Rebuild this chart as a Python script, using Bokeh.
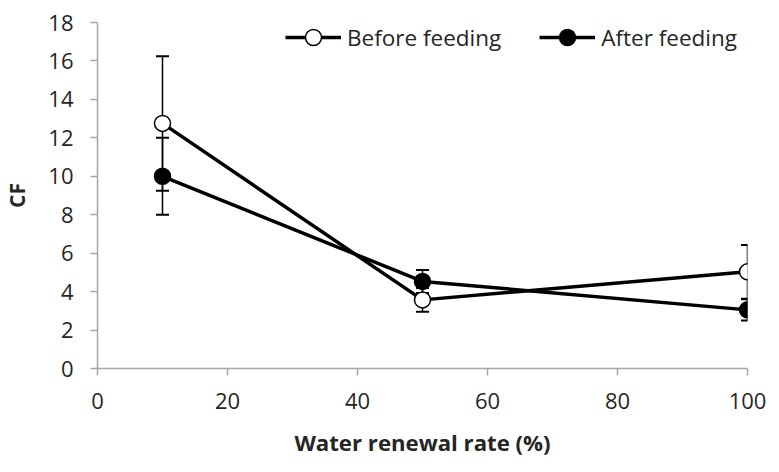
from bokeh.plotting import figure
from bokeh.models import ColumnDataSource, Whisker, TeeHead, Legend, LegendItem, Range1d, FixedTicker
from bokeh.embed import file_html
from bokeh.resources import INLINE

rates = [10, 50, 100]
before = [12.75, 3.57, 5.03]
before_err = [3.5, 0.62, 1.4]
after = [10.0, 4.53, 3.05]
after_err = [2.0, 0.6, 0.55]
x_ticks = [0, 20, 40, 60, 80, 100]
y_ticks = [0, 2, 4, 6, 8, 10, 12, 14, 16, 18]

FONT = "Open Sans"
TXT = "#262626"
AX = "#a6a6a6"

p = figure(width=771, height=464, output_backend="svg", toolbar_location=None,
           x_range=Range1d(0, 100), y_range=Range1d(0, 18),
           min_border_left=97, min_border_right=24, min_border_top=22, min_border_bottom=96)
p.outline_line_color = None
p.xgrid.visible = False
p.ygrid.visible = False

for ax in (p.xaxis[0], p.yaxis[0]):
    ax.axis_line_color = AX
    ax.axis_line_width = 1.5
    ax.major_tick_line_color = AX
    ax.major_tick_line_width = 1.5
    ax.major_tick_out = 7
    ax.major_tick_in = 0
    ax.minor_tick_line_color = None
    ax.major_label_text_font = FONT
    ax.major_label_text_font_size = "22px"
    ax.major_label_text_color = TXT
    ax.axis_label_text_font = FONT
    ax.axis_label_text_font_style = "bold"
    ax.axis_label_text_color = TXT

p.xaxis.ticker = FixedTicker(ticks=x_ticks)
p.yaxis.ticker = FixedTicker(ticks=y_ticks)
p.xaxis.axis_label = "Water renewal rate (%)"
p.yaxis.axis_label = "CF"
p.xaxis.axis_label_text_font_size = "22.2px"
p.yaxis.axis_label_text_font_size = "21px"
p.xaxis.major_label_standoff = 17
p.xaxis.axis_label_standoff = 15
p.yaxis.major_label_standoff = 17
p.yaxis.axis_label_standoff = 14

src_b = ColumnDataSource(dict(x=rates, y=before,
                              lo=[v - e for v, e in zip(before, before_err)],
                              hi=[v + e for v, e in zip(before, before_err)]))
src_a = ColumnDataSource(dict(x=rates, y=after,
                              lo=[v - e for v, e in zip(after, after_err)],
                              hi=[v + e for v, e in zip(after, after_err)]))

for src in (src_b, src_a):
    w = Whisker(source=src, base="x", lower="lo", upper="hi",
                line_color="black", line_width=1.5,
                upper_head=TeeHead(size=13, line_color="black", line_width=2),
                lower_head=TeeHead(size=13, line_color="black", line_width=2),
                level="underlay")
    p.add_layout(w)

lb = p.line("x", "y", source=src_b, line_color="black", line_width=3.5)
la = p.line("x", "y", source=src_a, line_color="black", line_width=3.5)
sb = p.scatter("x", "y", source=src_b, size=16, marker="circle",
               fill_color="white", line_color="black", line_width=1.5)
sa = p.scatter("x", "y", source=src_a, size=16, marker="circle",
               fill_color="black", line_color="black", line_width=1.5)

legend = Legend(items=[LegendItem(label="Before feeding", renderers=[lb, sb]),
                       LegendItem(label="After feeding", renderers=[la, sa])],
                orientation="horizontal", location=(188, 311),
                glyph_width=56, glyph_height=40, label_standoff=6, spacing=38,
                label_height=30,
                padding=0, margin=0,
                background_fill_alpha=0, border_line_color=None,
                label_text_font=FONT, label_text_font_size="22.5px", label_text_color=TXT)
p.add_layout(legend, "center")

open("out.html", "w").write(file_html(p, INLINE))
